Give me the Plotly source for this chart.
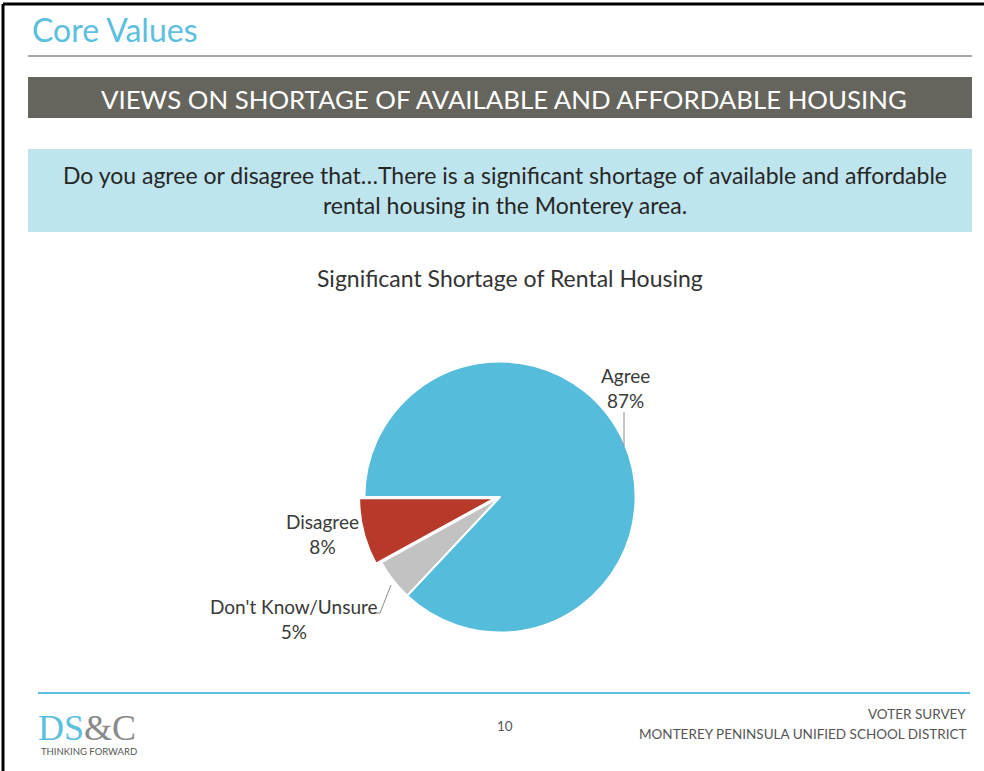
import plotly.graph_objects as go

# survey answers, in the order they are drawn (counterclockwise from 9 o'clock)
answers = ["Disagree", "Don't Know/Unsure", "Agree"]
shares = [8, 5, 87]
slice_colors = ["#B6392A", "#C2C2C2", "#55BCDB"]
pulls = [0.04, 0, 0]

W, H = 984, 771


def px(x):
    return x / W


def py(y):
    return 1 - y / H


fig = go.Figure()

# first slice hangs just below 9 o'clock, the rest follow counterclockwise
start = -90 - 360 * shares[0] / sum(shares)

fig.add_trace(go.Pie(
    labels=answers,
    values=shares,
    sort=False,
    direction="counterclockwise",
    rotation=start,
    pull=pulls,
    marker=dict(colors=slice_colors, line=dict(color="white", width=2)),
    textinfo="none",
    hoverinfo="label+percent",
    showlegend=False,
    domain=dict(x=[px(359), px(641)], y=[py(638), py(356)]),
))

label_font = dict(family="Lato, Open Sans, sans-serif", size=19, color="#3A3A3A")
label_pos = {
    "Agree": (625, 388),
    "Disagree": (322, 534),
    "Don't Know/Unsure": (294, 619),
}


def note(x, y, text, font, xanchor="center", align="center"):
    return dict(x=px(x), y=py(y), xref="paper", yref="paper",
                xanchor=xanchor, yanchor="middle", align=align,
                text=text, showarrow=False, font=font)


annotations = []
for name, val in zip(answers, shares):
    x, y = label_pos[name]
    annotations.append(note(x, y, f"{name}<br>{val}%", label_font))

foot_font = dict(family="Lato, sans-serif", size=13.5, color="#555555")

annotations += [
    note(30, 30, "Core Values",
         dict(family="Lato, sans-serif", size=32, color="#5BBFDD"), xanchor="left"),
    note(504, 99, "VIEWS ON SHORTAGE OF AVAILABLE AND AFFORDABLE HOUSING",
         dict(family="Lato, sans-serif", size=25.8, color="white")),
    note(505, 190,
         "Do you agree or disagree that…There is a significant shortage of available and affordable"
         "<br>rental housing in the Monterey area.",
         dict(family="Lato, sans-serif", size=23, color="#262626")),
    note(510, 278, "Significant Shortage of Rental Housing",
         dict(family="Lato, sans-serif", size=23, color="#333333")),
    note(505, 726, "10", foot_font),
    note(968, 714, "VOTER SURVEY", foot_font, xanchor="right"),
    note(968, 734, "MONTEREY PENINSULA UNIFIED SCHOOL DISTRICT", foot_font, xanchor="right"),
    note(36, 728, "<span style='color:#5BBFDD'>DS</span><span style='color:#8A8A8A'>&amp;C</span>",
         dict(family="Liberation Serif, DejaVu Serif, serif", size=36), xanchor="left"),
    note(39, 751, "THINKING FORWARD",
         dict(family="Lato, sans-serif", size=9.5, color="#555555"), xanchor="left"),
]

shapes = [
    # slide border (top and left edges)
    dict(type="line", xref="paper", yref="paper", x0=px(3), x1=1, y0=py(4), y1=py(4),
         line=dict(color="black", width=3)),
    dict(type="line", xref="paper", yref="paper", x0=px(3), x1=px(3), y0=py(4), y1=0,
         line=dict(color="black", width=3)),
    # grey rule under title
    dict(type="line", xref="paper", yref="paper", x0=px(28), x1=px(972), y0=py(56), y1=py(56),
         line=dict(color="#A8A8A8", width=2)),
    # dark banner
    dict(type="rect", xref="paper", yref="paper", x0=px(28), x1=px(972), y0=py(118), y1=py(77),
         fillcolor="#65655D", line=dict(width=0), layer="below"),
    # question box
    dict(type="rect", xref="paper", yref="paper", x0=px(28), x1=px(972), y0=py(232), y1=py(149),
         fillcolor="#BEE4EE", line=dict(width=0), layer="below"),
    # footer rule
    dict(type="line", xref="paper", yref="paper", x0=px(38), x1=px(970), y0=py(693), y1=py(693),
         line=dict(color="#5BBFDD", width=2)),
    # leader lines
    dict(type="line", xref="paper", yref="paper", x0=px(624), x1=px(624), y0=py(412), y1=py(446),
         line=dict(color="#8C8C8C", width=1)),
    dict(type="path", xref="paper", yref="paper",
         path=f"M {px(375)},{py(613)} L {px(380)},{py(613)} L {px(391)},{py(585)}",
         line=dict(color="#8C8C8C", width=1)),
]

fig.update_layout(
    width=W, height=H,
    margin=dict(l=0, r=0, t=0, b=0),
    paper_bgcolor="white",
    plot_bgcolor="white",
    annotations=annotations,
    shapes=shapes,
)

# drop the browser's default page margin so the slide sits at (0, 0)
fig.write_html("out.html", config={"displayModeBar": False},
               post_script="document.body.style.margin = '0';")
